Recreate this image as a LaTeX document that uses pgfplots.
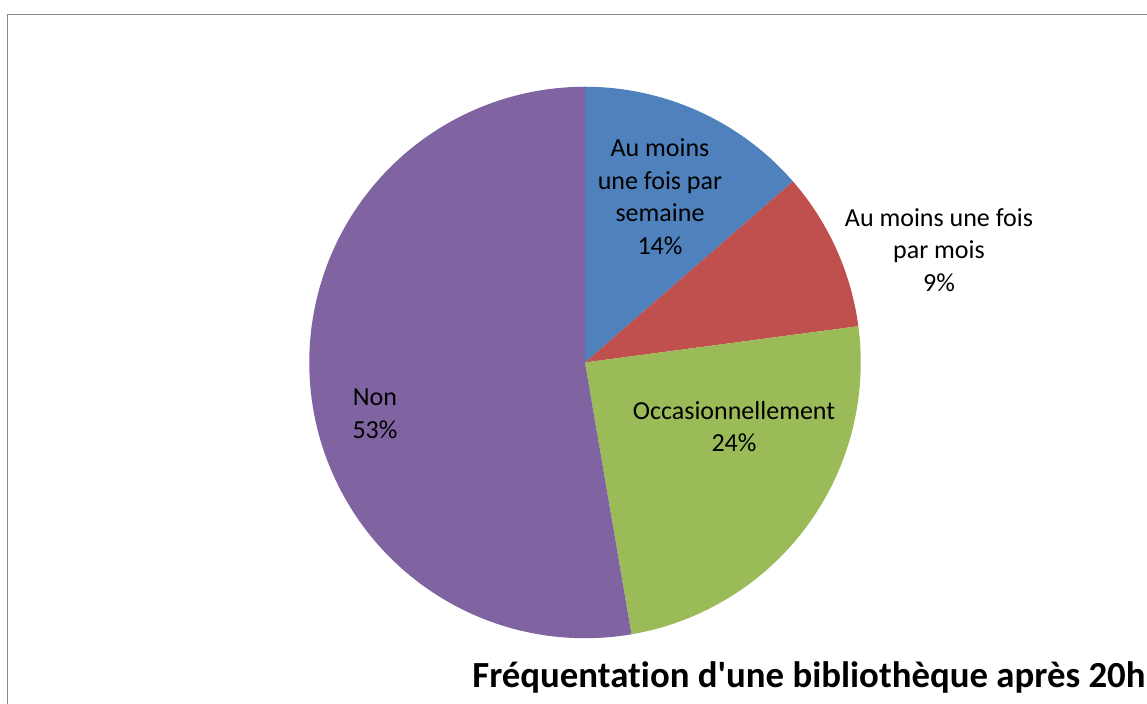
\documentclass[border=0pt]{standalone}
\usepackage{pgfplots}
\pgfplotsset{compat=1.18}
\usepackage{pgfplotstable}
\usepackage{fontspec}
\setmainfont{Carlito}[Ligatures={TeXOff,NoCommon}]
\definecolor{cBlue}{HTML}{4F81BD}
\definecolor{cRed}{HTML}{C0504D}
\definecolor{cGreen}{HTML}{9BBB59}
\definecolor{cPurple}{HTML}{8064A2}
\pgfplotstableread{
share
13.6
9.3
24.4
52.7
}\piedata
\pgfplotstablegetelem{0}{share}\of\piedata \let\vA\pgfplotsretval
\pgfplotstablegetelem{1}{share}\of\piedata \let\vB\pgfplotsretval
\pgfplotstablegetelem{2}{share}\of\piedata \let\vC\pgfplotsretval
\pgfplotstablegetelem{3}{share}\of\piedata \let\vD\pgfplotsretval
\pgfmathsetmacro{\aO}{90}
\pgfmathsetmacro{\aA}{\aO-3.6*\vA}
\pgfmathsetmacro{\aB}{\aA-3.6*\vB}
\pgfmathsetmacro{\aC}{\aB-3.6*\vC}
\pgfmathsetmacro{\aD}{\aC-3.6*\vD}
\begin{document}
\begin{tikzpicture}[x=0.5pt,y=0.5pt]
\useasboundingbox (0,0) rectangle (1147,704);
\clip (0,0) rectangle (1147,704);
\fill[white] (0,0) rectangle (1147,704);
\draw[color={rgb,255:red,134;green,134;blue,134}, line width=0.7pt] (7.5,-10) -- (7.5,689.5) -- (1160,689.5);
\begin{axis}[
  at={(292.5pt,170.75pt)}, anchor=center,
  scale only axis, width=275.75pt, height=275.75pt,
  xmin=-1, xmax=1, ymin=-1, ymax=1,
  hide axis, clip=false,
]
\addplot[fill=cBlue, draw=none, domain=\aA:\aO, samples=80, variable=\t] ({cos(\t)},{sin(\t)}) -- (axis cs:0,0) -- cycle;
\addplot[fill=cRed, draw=none, domain=\aB:\aA, samples=60, variable=\t] ({cos(\t)},{sin(\t)}) -- (axis cs:0,0) -- cycle;
\addplot[fill=cGreen, draw=none, domain=\aC:\aB, samples=100, variable=\t] ({cos(\t)},{sin(\t)}) -- (axis cs:0,0) -- cycle;
\addplot[fill=cPurple, draw=none, domain=\aD:\aC, samples=200, variable=\t] ({cos(\t)},{sin(\t)}) -- (axis cs:0,0) -- cycle;
\end{axis}
\begin{scope}[every node/.style={align=center, font=\fontsize{13pt}{16.25pt}\selectfont, inner sep=0pt}]
\node at (660,507.5) {Au moins\\une fois par\\semaine\\14\%};
\node at (939,454) {Au moins une fois\\par mois\\9\%};
\node at (734,277.5) {Occasionnellement\\24\%};
\node at (375,290) {Non\\53\%};
\end{scope}
\node[anchor=base west, inner sep=0pt, font=\fontsize{18.4pt}{22pt}\selectfont\bfseries] at (472,16.7) {Fréquentation d'une bibliothèque après 20h};
\end{tikzpicture}
\end{document}
